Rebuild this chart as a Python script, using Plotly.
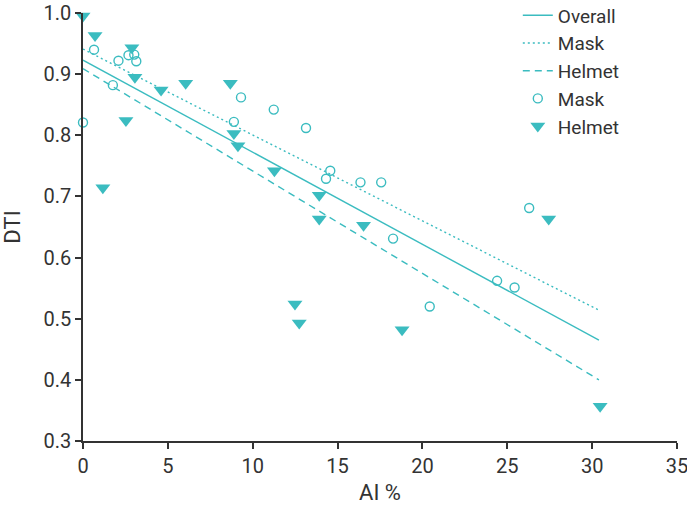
import plotly.graph_objects as go

TEAL = "#3bbcc0"
AXIS = "#333333"
FONT = "Roboto, 'Liberation Sans', sans-serif"

# Mask (open circles)
mask_ai = [0.0, 0.65, 1.76, 2.09, 2.68, 3.02, 3.14, 8.89, 9.31, 11.24, 13.14,
           14.32, 14.57, 16.35, 17.57, 18.27, 20.43, 24.40, 25.43, 26.29]
mask_dti = [0.821, 0.940, 0.882, 0.922, 0.931, 0.932, 0.921, 0.822, 0.862, 0.842, 0.812,
            0.729, 0.742, 0.723, 0.723, 0.631, 0.520, 0.562, 0.551, 0.681]

# Helmet (filled down-triangles)
helmet_ai = [0.0, 0.71, 2.88, 3.06, 2.53, 1.17, 4.60, 6.05, 8.68, 8.89, 9.13,
             11.28, 13.92, 13.92, 16.53, 12.49, 12.74, 18.80, 27.44, 30.47]
helmet_dti = [0.995, 0.963, 0.943, 0.895, 0.824, 0.714, 0.874, 0.885, 0.885, 0.803, 0.783,
              0.742, 0.702, 0.663, 0.653, 0.524, 0.493, 0.482, 0.663, 0.357]

# Regression line endpoints
fit_ai = [0.0, 30.4]
overall_fit = [0.923, 0.465]
mask_fit = [0.941, 0.514]
helmet_fit = [0.909, 0.400]

x_ticks = [0, 5, 10, 15, 20, 25, 30, 35]
y_ticks = [0.3, 0.4, 0.5, 0.6, 0.7, 0.8, 0.9, 1.0]
y_tick_labels = ["0.3", "0.4", "0.5", "0.6", "0.7", "0.8", "0.9", "1.0"]

fig = go.Figure()
fig.add_trace(go.Scatter(x=fit_ai, y=overall_fit, mode="lines", name="Overall",
                         line=dict(color=TEAL, width=1.4)))
fig.add_trace(go.Scatter(x=fit_ai, y=mask_fit, mode="lines", name="Mask",
                         line=dict(color=TEAL, width=1.4, dash="2px,3px")))
fig.add_trace(go.Scatter(x=fit_ai, y=helmet_fit, mode="lines", name="Helmet",
                         line=dict(color=TEAL, width=1.4, dash="7px,5px")))
fig.add_trace(go.Scatter(x=mask_ai, y=mask_dti, mode="markers", name="Mask",
                         marker=dict(symbol="circle-open", size=9, color=TEAL,
                                     line=dict(width=1.4, color=TEAL)),
                         cliponaxis=False))
fig.add_trace(go.Scatter(x=helmet_ai, y=helmet_dti, mode="markers", name="Helmet",
                         marker=dict(symbol="triangle-down", size=13, color=TEAL,
                                     line=dict(width=0)),
                         cliponaxis=False))

fig.update_layout(
    width=687, height=506,
    margin=dict(l=83, r=10, t=0, b=65, autoexpand=False),
    paper_bgcolor="white", plot_bgcolor="white",
    font=dict(family=FONT, size=20, color=AXIS),
    showlegend=True,
    legend=dict(x=0.732, y=1.008, xanchor="left", yanchor="top",
                font=dict(size=19, color=AXIS), bgcolor="rgba(0,0,0,0)"),
)
fig.update_xaxes(range=[0, 35], tickvals=x_ticks, showgrid=False, zeroline=False,
                 showline=True, linecolor=AXIS, linewidth=1.5, automargin=False,
                 ticklabeloverflow="allow",
                 ticks="outside", ticklen=6, tickwidth=1.5, tickcolor=AXIS,
                 title=dict(text="AI %", font=dict(size=22), standoff=8))
fig.update_yaxes(range=[0.3, 1.0], tickvals=y_ticks, ticktext=y_tick_labels,
                 domain=[0, 428 / 441],
                 showgrid=False, zeroline=False, automargin=False,
                 showline=True, linecolor=AXIS, linewidth=1.5,
                 ticks="outside", ticklen=6, tickwidth=1.5, tickcolor=AXIS,
                 title=dict(text="DTI", font=dict(size=22), standoff=24))

fig.write_html("out.html", config={"displayModeBar": False},
               post_script="document.body.style.margin='0';")
